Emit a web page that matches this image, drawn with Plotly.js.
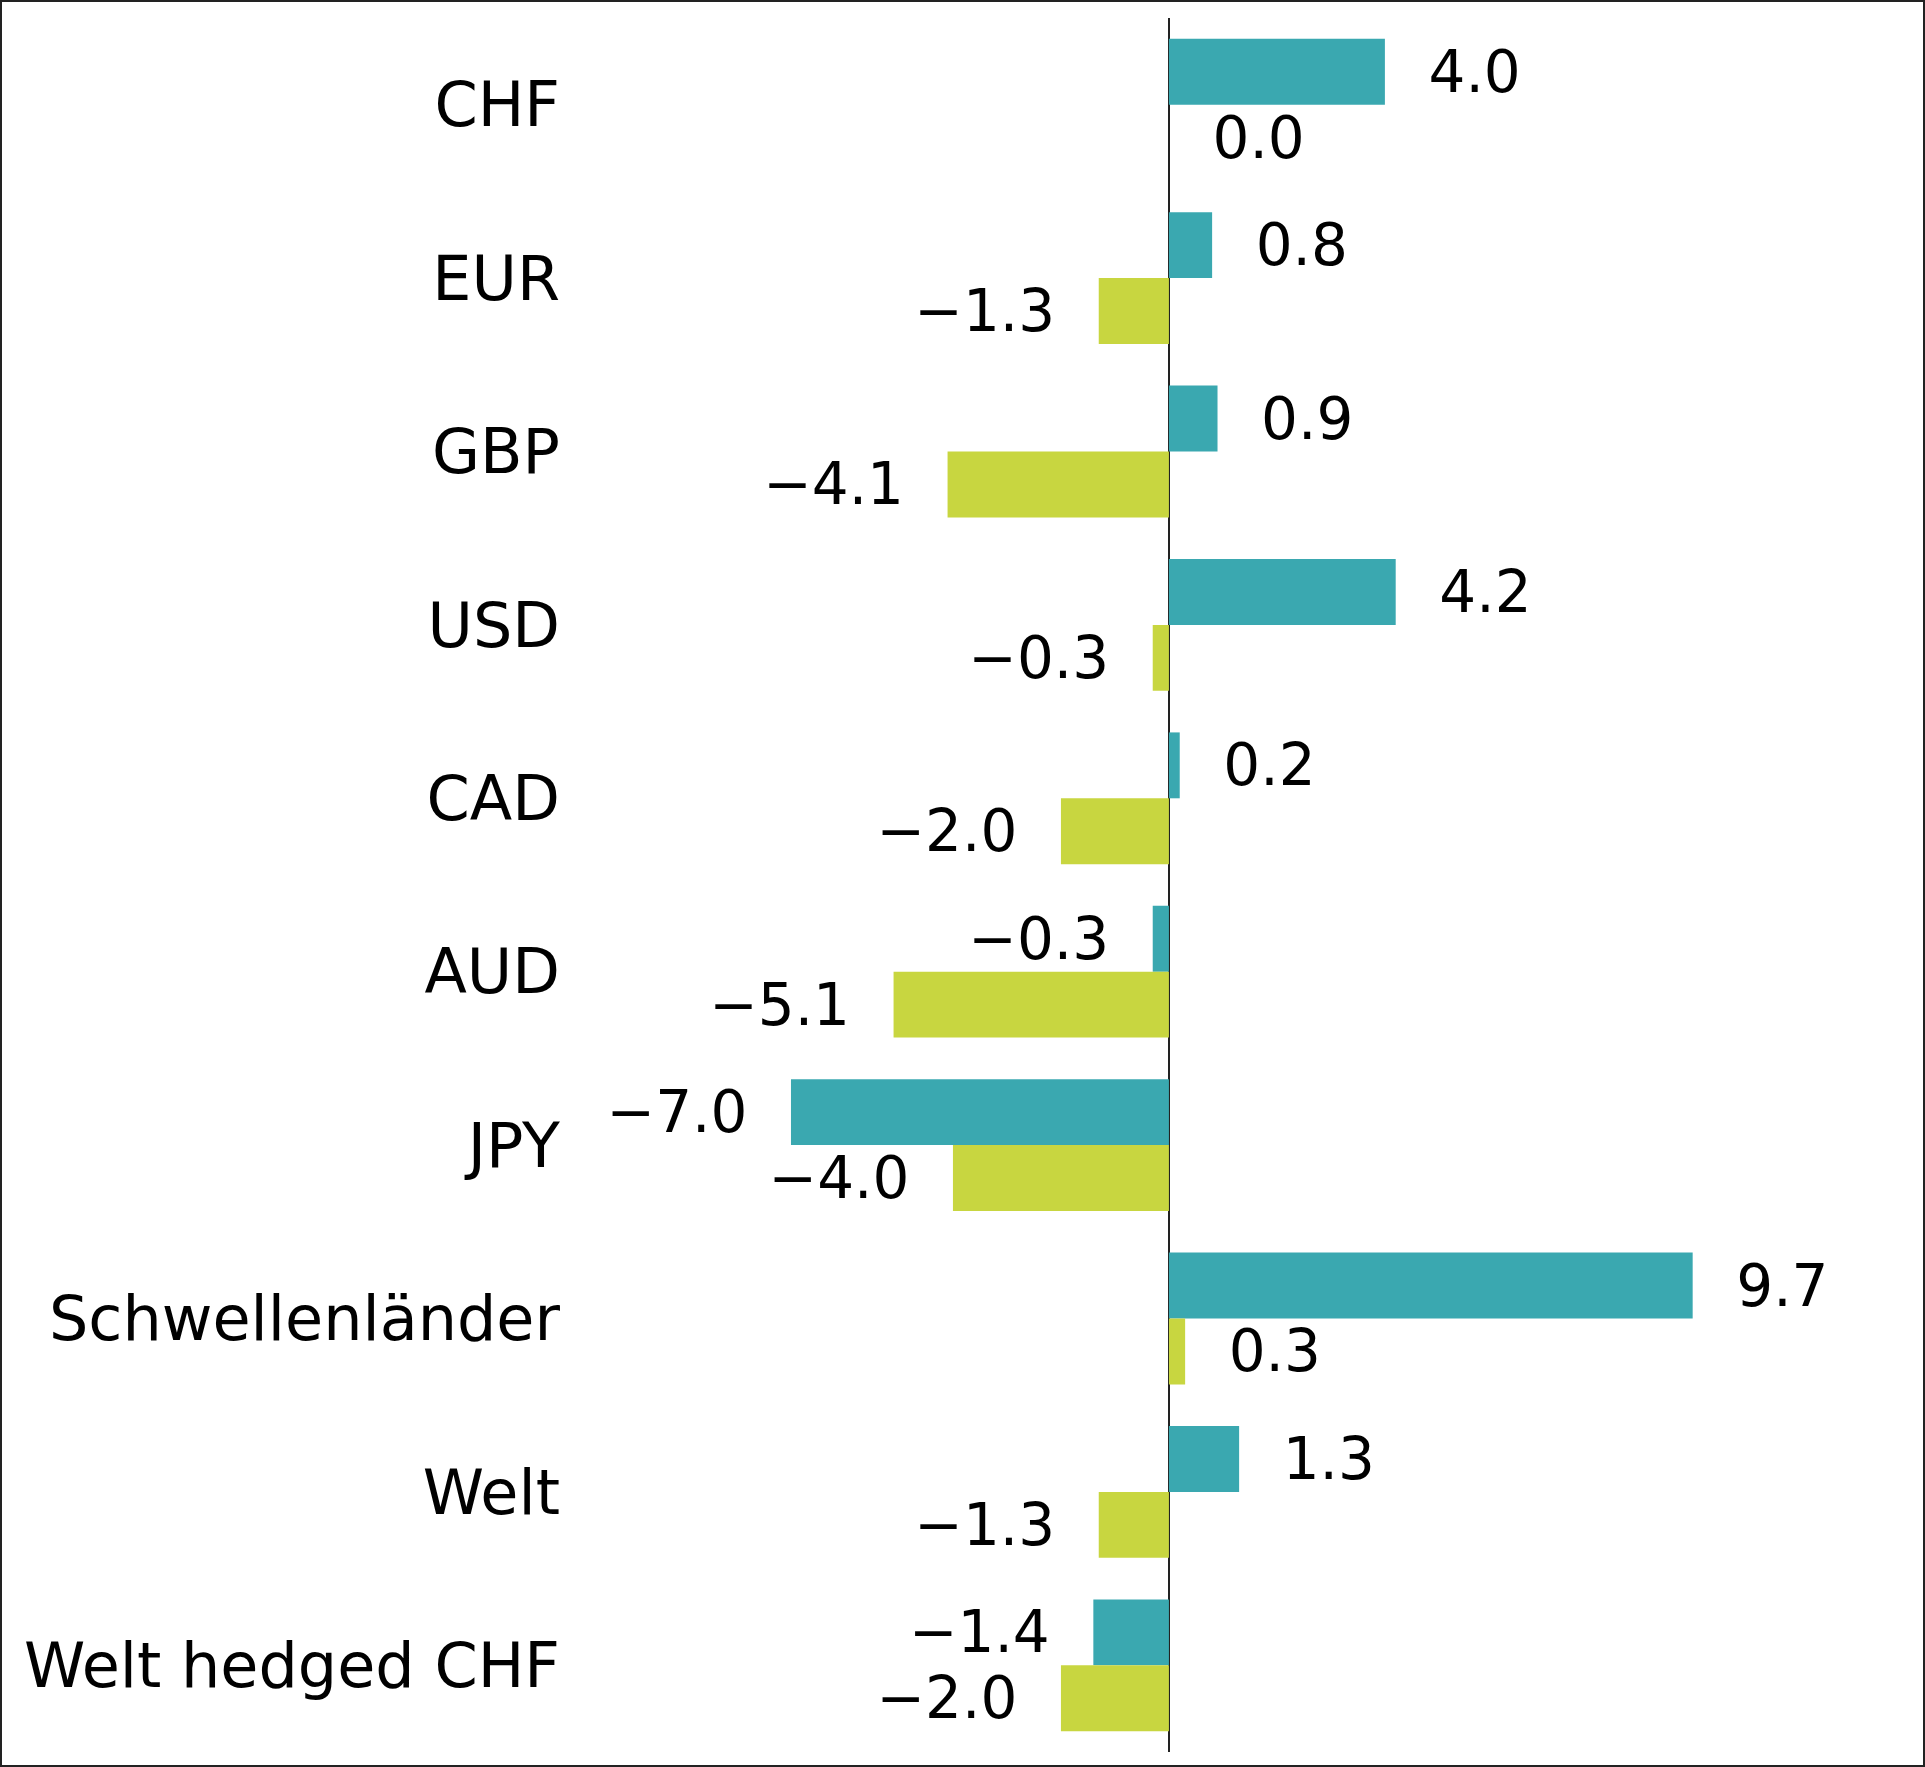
<!DOCTYPE html>
<html>
<head>
<meta charset="utf-8">
<script src="https://cdn.plot.ly/plotly-3.0.1.min.js"></script>
<style>
  html, body { margin: 0; padding: 0; background: #fff; }
  #wrap { position: relative; width: 1925px; height: 1767px; }
  #chart { position: absolute; left: 0; top: 0; width: 1925px; height: 1767px; }
  #frame { position: absolute; left: 0; top: 0; width: 1925px; height: 1767px; box-sizing: border-box; border: 2px solid #222; pointer-events: none; }
</style>
</head>
<body>
<div id="wrap"><div id="chart"></div><div id="frame"></div></div>
<script>
const categories = ["CHF", "EUR", "GBP", "USD", "CAD", "AUD", "JPY", "Schwellenländer", "Welt", "Welt hedged CHF"];
const seriesA = [4.0, 0.8, 0.9, 4.2, 0.2, -0.3, -7.0, 9.7, 1.3, -1.4];
const seriesB = [0.0, -1.3, -4.1, -0.3, -2.0, -5.1, -4.0, 0.3, -1.3, -2.0];

const GAP = "\u2002\u2009";
function fmt(v) {
  const s = Math.abs(v).toFixed(1);
  return v < 0 ? "\u2212" + s + GAP : GAP + s;
}

const FONT = "DejaVu Sans, Open Sans, sans-serif";
const common = {
  type: "bar",
  orientation: "h",
  y: categories,
  textposition: "outside",
  cliponaxis: false,
  constraintext: "none",
  textfont: { family: FONT, size: 58, color: "#000" },
  hoverinfo: "x+y"
};

const traces = [
  Object.assign({}, common, { name: "A", x: seriesA, text: seriesA.map(fmt), marker: { color: "#3AA8B0" } }),
  Object.assign({}, common, { name: "B", x: seriesB, text: seriesB.map(fmt), marker: { color: "#C8D640" } })
];

const layout = {
  width: 1925,
  height: 1767,
  margin: { l: 575, r: 25, t: 18, b: 15, pad: 0 },
  paper_bgcolor: "#fff",
  plot_bgcolor: "#fff",
  showlegend: false,
  barmode: "group",
  bargap: 0.24,
  bargroupgap: 0,
  font: { family: FONT, size: 60, color: "#000" },
  xaxis: {
    range: [-11.0, 13.54],
    showgrid: false,
    showticklabels: false,
    ticks: "",
    zeroline: true,
    zerolinecolor: "#222",
    zerolinewidth: 1.5,
    showline: false,
    fixedrange: true
  },
  yaxis: {
    type: "category",
    autorange: "reversed",
    showgrid: false,
    zeroline: false,
    showline: false,
    ticks: "",
    ticklabelstandoff: 14,
    tickfont: { family: FONT, size: 62, color: "#000" },
    fixedrange: true
  }
};

Plotly.newPlot("chart", traces, layout, { displayModeBar: false, staticPlot: true });
</script>
</body>
</html>
